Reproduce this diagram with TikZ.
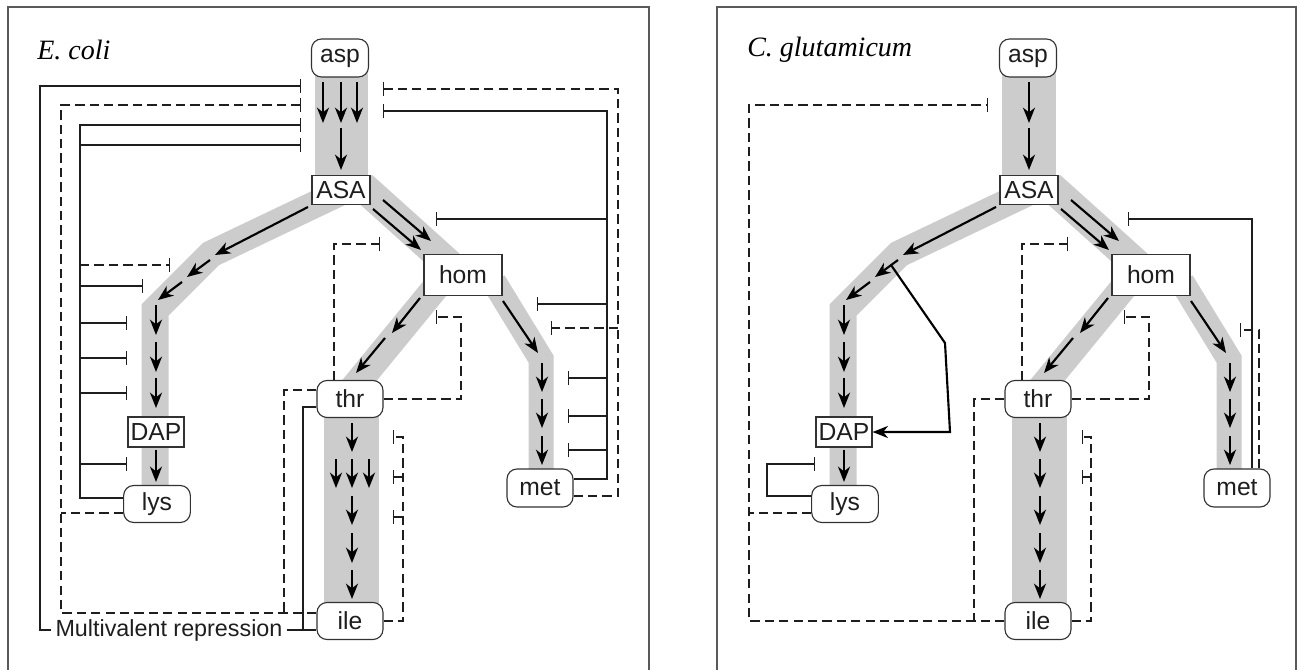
\documentclass[tikz,border=0pt]{standalone}
\usepackage{fontspec}
\setmainfont{Liberation Sans}
\newfontfamily\serifit{Liberation Serif}
\usetikzlibrary{arrows.meta,calc}
\definecolor{bandc}{RGB}{204,204,204}
\definecolor{ink}{RGB}{30,30,30}
\definecolor{boxc}{RGB}{50,50,50}
\begin{document}
\begin{tikzpicture}[x=0.75pt,y=-0.75pt,
  band/.style={draw=bandc, line width=#1, line join=miter},
  bandfill/.style={fill=bandc},
  frame/.style={draw=black!65, line width=1pt},
  rnode/.style={draw=boxc, fill=white, rounded corners=7.5pt, line width=0.85pt, inner sep=0pt, text=ink, font=\fontsize{18.5}{20}\selectfont},
  snode/.style={draw=boxc, fill=white, line width=0.85pt, inner sep=0pt, text=ink, font=\fontsize{18.5}{20}\selectfont},
  lab/.style={font=\serifit\itshape\fontsize{21}{24}\selectfont, text=black, inner sep=0pt},
  txt/.style={font=\fontsize{17.5}{20}\selectfont, text=ink, inner sep=3pt},
  flow/.style={-{Stealth[length=11.5pt,width=9pt,inset=3.5pt]}, line width=1.6pt, draw=black},
  inh/.style={-{Bar[width=10pt,line width=0.9pt]}, line width=0.9pt, draw=ink},
  plain/.style={line width=0.9pt, draw=ink},
  dsh/.style={dash pattern=on 7pt off 3.8pt, line width=0.9pt, draw=ink},
]
\useasboundingbox (0,0) rectangle (1299,670);

% ================= E. coli =================
\draw[frame] (8,690) -- (8,7) -- (649,7) -- (649,690);
\node[lab, anchor=west] (elab) at (37,50) {E. coli};

% bands
\fill[bandfill] (315,70) rectangle (368,180);
\draw[band=20.25pt] (341,192)--(211,254)--(155,310)--(155,490);
\draw[band=22.5pt] (362,186)--(462,276);
\draw[band=20.25pt] (450,270)--(350,392);
\draw[band=18.75pt] (494,282)--(541,359)--(541,472);
\fill[bandfill] (324,410) rectangle (379,606);

% nodes
\node[rnode, minimum width=42.75pt, minimum height=28.5pt] (easp) at (340,58) {asp};
\node[snode, minimum width=43.5pt, minimum height=21.75pt] (easa) at (341,190) {ASA};
\node[snode, minimum width=58.5pt, minimum height=30.75pt] (ehom) at (463,275) {hom};
\node[snode, minimum width=42pt, minimum height=22.5pt] (edap) at (156,432) {DAP};
\node[rnode, minimum width=50pt, minimum height=27.75pt] (elys) at (157,504) {lys};
\node[rnode, minimum width=49.5pt, minimum height=27.75pt] (ethr) at (350,399) {thr};
\node[rnode, minimum width=49.5pt, minimum height=27.75pt] (eile) at (350,621) {ile};
\node[rnode, minimum width=49.5pt, minimum height=28.5pt] (emet) at (540,488) {met};
\node[txt] (emr) at (169,630) {Multivalent repression};

% flux arrows
\foreach \x in {323,341,357} \draw[flow] (\x,82) -- (\x,123);
\draw[flow] (341,128) -- (341,170);
\draw[flow] (383,200) -- (431,241);
\draw[flow] (373,209) -- (421,250);
\draw[flow] (308,207) -- (215,255);
\draw[flow] (210,260) -- (187,277);
\draw[flow] (182,282) -- (158,300);
\draw[flow] (156,305) -- (156,335);
\draw[flow] (156,342) -- (156,372);
\draw[flow] (156,378) -- (156,408);
\draw[flow] (156,450) -- (156,482);
\draw[flow] (420,298) -- (392,333);
\draw[flow] (385,338) -- (356,373);
\draw[flow] (503,301) -- (538,353);
\draw[flow] (542,363) -- (542,392);
\draw[flow] (542,399) -- (542,428);
\draw[flow] (542,436) -- (542,465);
\draw[flow] (352,423) -- (352,452);
\foreach \x in {336,352,369} \draw[flow] (\x,459) -- (\x,488);
\draw[flow] (352,496) -- (352,525);
\draw[flow] (352,533) -- (352,563);
\draw[flow] (352,570) -- (352,599);

% regulation, left side
\draw[inh] (emr.west) -| (40,86) -- (301,86);
\draw[plain] (emr.east) -- (eile.west |- emr.east);
\draw[plain] ($(ethr.west)+(0,8)$) -| (303,630);
\draw[inh,dsh] ($(eile.west)+(0,-8)$) -| (61,105) -- (301,105);
\draw[dsh] ($(elys.west)+(0,9)$) -- (61,513);
\draw[dsh] ($(ethr.west)+(0,-9)$) -| (284,613);
\draw[inh] ($(elys.west)+(0,-6)$) -| (80,125) -- (301,125);
\draw[inh] (80,145) -- (301,145);
\draw[inh,dsh] (80,265) -- (170,265);
\draw[inh] (80,286) -- (143,286);
\foreach \y in {323,358,393,464} \draw[inh] (80,\y) -- (127,\y);

% regulation, right side
\draw[inh] ($(emet.east)+(0,-9)$) -| (607,111) -- (383,111);
\draw[inh] (607,219) -- (436,219);
\draw[inh] (607,304) -- (537,304);
\foreach \y in {378,416,450} \draw[inh] (607,\y) -- (568,\y);
\draw[inh,dsh] ($(emet.east)+(0,8)$) -| (618,89) -- (383,89);
\draw[inh,dsh] (618,328) -- (551,328);

% threonine / isoleucine
\draw[inh,dsh] ($(ethr.north)+(-16,0)$) |- (380,244);
\draw[inh,dsh] (ethr.east) -| (461,317) -- (436,317);
\draw[inh,dsh] (eile.east) -| (403,437) -- (393,437);
\draw[inh,dsh] (403,477) -- (393,477);
\draw[inh,dsh] (403,517) -- (393,517);

% ================= C. glutamicum =================
\draw[frame] (717,690) -- (717,7) -- (1296,7) -- (1296,690);
\begin{scope}[shift={(688,0)}]
\node[lab, anchor=west] (clab) at (59,50) {C. glutamicum};

\fill[bandfill] (314,70) rectangle (368,180);
\draw[band=20.25pt] (341,192)--(211,254)--(155,310)--(155,490);
\draw[band=22.5pt] (362,186)--(462,276);
\draw[band=20.25pt] (450,270)--(350,392);
\draw[band=18.75pt] (494,282)--(541,359)--(541,472);
\fill[bandfill] (324,410) rectangle (379,606);

\node[rnode, minimum width=42.75pt, minimum height=28.5pt] (casp) at (340,58) {asp};
\node[snode, minimum width=43.5pt, minimum height=21.75pt] (casa) at (341,190) {ASA};
\node[snode, minimum width=58.5pt, minimum height=30.75pt] (chom) at (463,275) {hom};
\node[snode, minimum width=42pt, minimum height=22.5pt] (cdap) at (156,432) {DAP};
\node[rnode, minimum width=50pt, minimum height=27.75pt] (clys) at (157,504) {lys};
\node[rnode, minimum width=49.5pt, minimum height=27.75pt] (cthr) at (350,399) {thr};
\node[rnode, minimum width=49.5pt, minimum height=27.75pt] (cile) at (350,621) {ile};
\node[rnode, minimum width=49.5pt, minimum height=28.5pt] (cmet) at (549,488) {met};

\draw[flow] (341,82) -- (341,123);
\draw[flow] (341,128) -- (341,170);
\draw[flow] (383,200) -- (431,241);
\draw[flow] (373,209) -- (421,250);
\draw[flow] (308,207) -- (215,255);
\draw[flow] (210,260) -- (187,277);
\draw[flow] (182,282) -- (158,300);
\draw[flow] (156,305) -- (156,335);
\draw[flow] (156,342) -- (156,372);
\draw[flow] (156,378) -- (156,408);
\draw[flow] (156,450) -- (156,482);
\draw[flow] (420,298) -- (392,333);
\draw[flow] (385,338) -- (356,373);
\draw[flow] (503,301) -- (538,353);
\draw[flow] (542,363) -- (542,392);
\draw[flow] (542,399) -- (542,428);
\draw[flow] (542,436) -- (542,465);
\draw[flow] (352,423) -- (352,452);
\draw[flow] (352,459) -- (352,488);
\draw[flow] (352,496) -- (352,525);
\draw[flow] (352,533) -- (352,563);
\draw[flow] (352,570) -- (352,599);

% DAP activation
\draw[flow] (203,265) -- (257,343) -- (262,432) -- (cdap.east);

% regulation
\draw[inh,dsh] (cile.west) -| (61,105) -- (300,105);
\draw[dsh] ($(clys.west)+(0,9)$) -- (61,513);
\draw[dsh] (cthr.west) -| (286,621);
\draw[inh] ($(clys.west)+(0,-8)$) -| (79,464) -- (127,464);
\draw[inh,dsh] ($(cthr.north)+(-16,0)$) |- (380,244);
\draw[inh,dsh] (cthr.east) -| (461,317) -- (436,317);
\draw[inh,dsh] (cile.east) -| (403,437) -- (394,437);
\draw[inh,dsh] (403,477) -- (394,477);
\draw[inh] ($(cmet.north)+(15,0)$) |- (440,219);
\draw[inh,dsh] ($(cmet.north)+(22,0)$) |- (552,330);
\end{scope}
\end{tikzpicture}
\end{document}
